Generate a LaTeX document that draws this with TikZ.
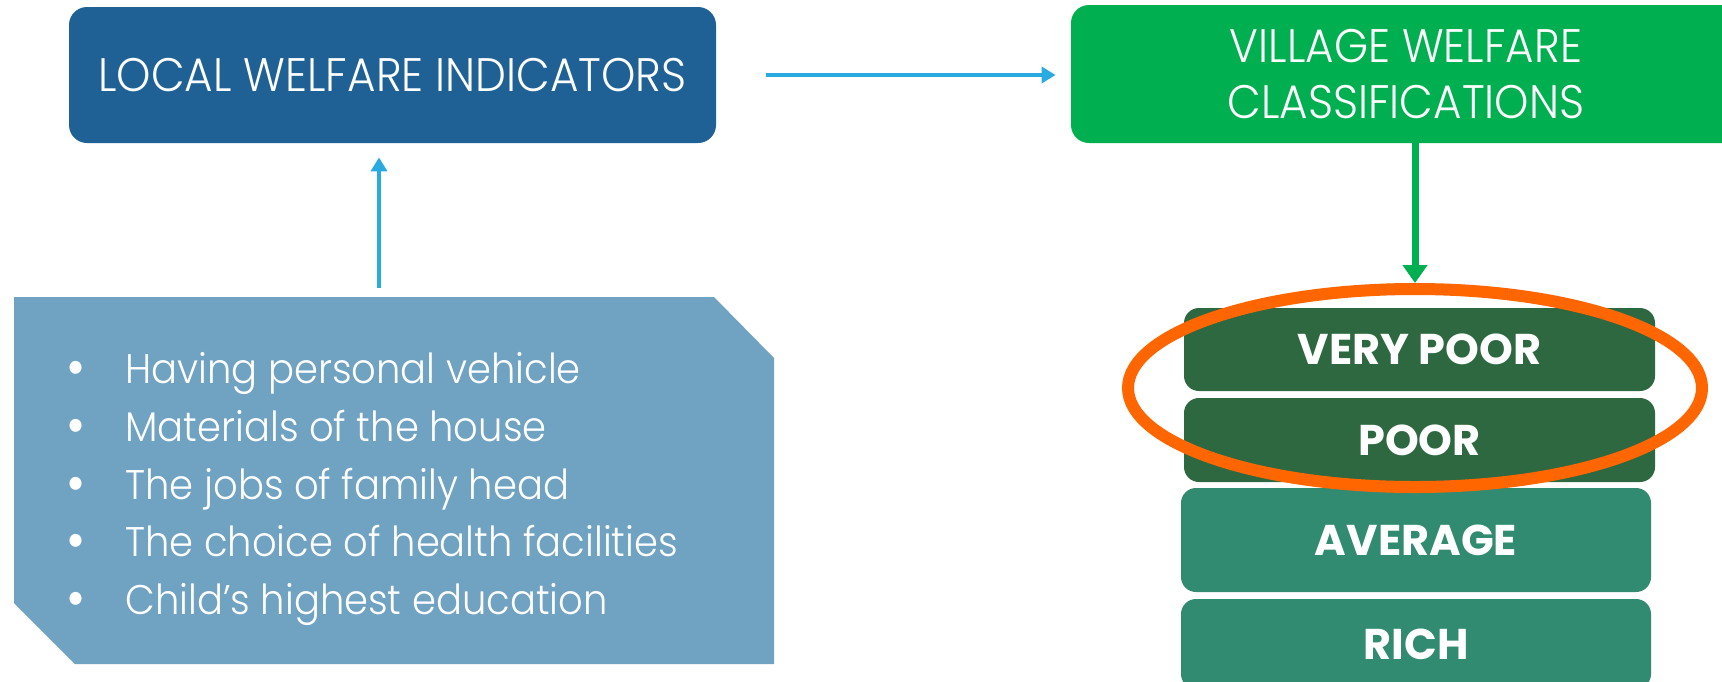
\documentclass[tikz,border=0pt]{standalone}
\usepackage{fontspec}
\setmainfont{Poppins}
\newfontfamily\thinfont{Poppins Light}[FakeStretch=0.93]
\usetikzlibrary{shapes.geometric,arrows.meta}
\definecolor{indblue}{HTML}{1F6195}
\definecolor{vilgreen}{HTML}{00AF50}
\definecolor{arrowblue}{HTML}{29ABE2}
\definecolor{listblue}{HTML}{70A2C2}
\definecolor{poorgreen}{HTML}{2E6840}
\definecolor{richgreen}{HTML}{318B70}
\definecolor{ringorange}{HTML}{FF6600}
\newcommand{\listdot}{\makebox[29.5pt][l]{\raisebox{-1.5pt}{\fontsize{28}{28}\selectfont\textbullet}}}

\begin{document}
\begin{tikzpicture}[x=0.5pt,y=-0.5pt]
        \tikzstyle{every node}=[text=white,inner sep=0pt]
        \tikzstyle{headbox}=[rounded corners=9pt,align=center,font=\thinfont\fontsize{23.5}{28}\selectfont]
        \tikzstyle{classbox}=[rounded corners=7.5pt,minimum width=235.5pt,font=\bfseries\fontsize{21.5}{26}\selectfont]
        \tikzstyle{link}=[line width=2.25pt,arrowblue,-{Triangle[length=7pt,width=8pt]}]
        \useasboundingbox (0,0) rectangle (1722,681);
        \clip (0,0) rectangle (1722,681);

        % top row
        \node[headbox,fill=indblue,minimum width=323.5pt,minimum height=68pt] (indicators) at (392.5,75) {LOCAL WELFARE INDICATORS};
        \node[headbox,fill=vilgreen,minimum width=335pt,minimum height=69pt,text depth=-2pt] (classes) at (1406,74) {VILLAGE WELFARE\\CLASSIFICATIONS};

        % indicator list
        \fill[listblue] (14,297) -- (714,297) -- (774,358) -- (774,664) -- (75,664) -- (14,603) -- cycle;
        \coordinate (criteriatop) at (379,297);
        \node[anchor=west,align=left,font=\thinfont\fontsize{20.7}{28.85}\selectfont] (criteria) at (66,489) {%
            \listdot Having personal vehicle\\
            \listdot Materials of the house\\
            \listdot The jobs of family head\\
            \listdot The choice of health facilities\\
            \listdot Child’s highest education};

        % classification stack
        \node[classbox,fill=poorgreen,minimum height=41.5pt] (verypoor) at (1419.5,349.5) {VERY POOR};
        \node[classbox,fill=poorgreen,minimum height=42pt] (poor) at (1419.5,440) {POOR};
        \node[classbox,fill=richgreen,minimum width=235pt,minimum height=52pt] (average) at (1416,540) {AVERAGE};
        \node[classbox,fill=richgreen,minimum width=235pt,minimum height=45pt] (rich) at (1416,644) {RICH};
        \node[ellipse,draw=ringorange,line width=6pt,minimum width=287pt,minimum height=99pt] (ring) at (1415,388) {};

        % arrows
        \draw[link,shorten <=25pt,shorten >=7.5pt] (indicators.east) -- (indicators.east -| classes.west);
        \draw[link,shorten <=4.5pt,shorten >=7pt] (criteriatop) -- (criteriatop |- indicators.south);
        \draw[line width=3.5pt,vilgreen,-{Triangle[length=9pt,width=12pt]}] (classes.south -| ring.north) -- (ring.north);
    \end{tikzpicture}
\end{document}
